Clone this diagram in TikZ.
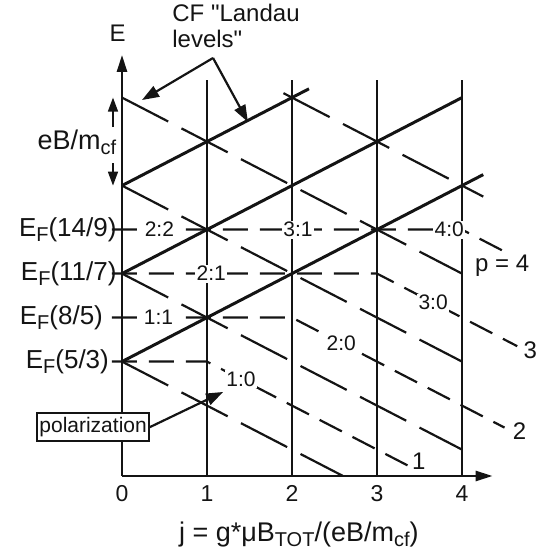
\documentclass[tikz,border=0pt]{standalone}
\usepackage{fontspec}
\setmainfont{Liberation Sans}
\newfontfamily\plainq{Liberation Sans}
\usetikzlibrary{arrows.meta,positioning,calc}
\definecolor{ink}{HTML}{141414}
\newcommand{\Base}{2.6}
\newcommand{\dn}[1]{\raisebox{-0.35ex}{\fontsize{10}{10}\selectfont #1}}
\newcommand{\qq}{{\plainq"}}

\begin{document}
\begin{tikzpicture}[x=42.5pt, y=22pt, ink, font=\fontsize{13}{13}\selectfont,
    axis/.style={-{Triangle[length=8.5pt,width=5pt]}, line width=1.3pt},
    jline/.style={line width=1pt},
    uplevel/.style={line width=1.5pt},
    downlevel/.style={line width=1.1pt, dash pattern=on 26pt off 7.5pt},
    fermi/.style={line width=1.1pt, dash pattern=on 12.5pt off 6pt},
    ratio/.style={fill=white, inner sep=0.8pt, font=\fontsize{10.5}{11}\selectfont},
    pointer/.style={-{Triangle[length=8.5pt,width=6pt]}, line width=1.1pt},
    gap/.style={-{Triangle[length=7pt,width=5pt]}, line width=0.8pt},
    endlabel/.style={inner sep=0pt, font=\fontsize{12}{12}\selectfont},
  ]
\useasboundingbox (-1.4353,-1.8182) rectangle (4.9647,10.8182);

% --- Integer j lines and axes --------------------------------------------------
\foreach \j in {1,...,4}
  \draw[jline] (\j,0) -- (\j,9);

% --- CF levels: down lines dashed, up lines solid ------------------------------
% level n sits at \Base+n half steps and moves half a step per unit of j
\foreach \n/\ja/\jb in {0/0/2.6, 2/0/4, 4/0/4, 6/0/4, 8/1.9/4.25}
  \draw[downlevel] (\ja,\Base+\n-\ja) -- (\jb,\Base+\n-\jb);
\foreach \n/\jb in {0/4.25, 2/4, 4/2.2}
  \draw[uplevel] (0,\Base+\n) -- (\jb,\Base+\n+\jb);

% --- Fermi levels: flat up to j = p, then down ---------------------------------
\foreach \p/\ef/\lx/\je in {1/{5/3}/-0.15/3.36, 2/{8/5}/-0.22/4.5, 3/{11/7}/-0.06/4.65, 4/{14/9}/-0.06/4.48} {
  \pgfmathsetmacro{\lev}{\Base+\p-1}
  \node[anchor=east, inner sep=0pt] (ef\p) at (\lx,\lev) {E\dn{F}(\ef)};
  \draw[fermi] (-0.12,\lev) -- (\p,\lev) -- (\je,\lev+\p-\je) coordinate (end\p);
}
\foreach \a/\b/\j in {1/0/1.40, 1/1/0.43, 2/0/2.58, 2/1/1.05, 3/0/3.66, 2/2/0.44, 3/1/2.07, 4/0/3.85} {
  \pgfmathtruncatemacro{\p}{\a+\b}
  \pgfmathsetmacro{\y}{ifthenelse(\j<\p, \Base+\p-1, \Base+2*\p-1-\j)}
  \node[ratio] (r\a\b) at (\j,\y) {\a:\b};
}
\node[endlabel, right=2pt of end1, yshift=2pt] (p1) {1};
\node[endlabel, right=4pt of end2, yshift=-2pt] (p2) {2};
\node[endlabel, right=3pt of end3, yshift=-2pt] (p3) {3};
\node[endlabel, below right=2pt and -14pt of end4] (p4) {p = 4};

\draw[axis] (0,0) -- (0,9.57);
\draw[axis] (0,0) -- (4.36,0);
\node[font=\fontsize{12}{12}\selectfont] (elab) at (-0.05,10.07) {E};
\foreach \j in {0,...,4}
  \node[font=\fontsize{11.5}{12}\selectfont] (tick\j) at (\j,-0.39) {\j};
\node[font=\fontsize{13.5}{14}\selectfont] (jlab) at (2.08,-1.34) {j = g*μB\dn{TOT}/(eB/m\dn{cf})};

% --- Level spacing -------------------------------------------------------------
\node[font=\fontsize{13.5}{14}\selectfont] (ebm) at (-0.53,7.59) {eB/m\dn{cf}};
\coordinate (gaptop) at (-0.106,8.6);
\coordinate (gapbot) at (-0.106,6.6);
\draw[gap] (-0.106,7.93) -- (gaptop);
\draw[gap] (-0.106,7.11) -- (gapbot);

% --- Callouts ------------------------------------------------------------------
\node[anchor=north west, align=left, inner sep=0pt, font=\fontsize{12}{13}\selectfont] (cf) at (0.588,10.727) {CF \qq Landau\\levels\qq};
\coordinate (cfroot) at (1.071,9.5);
\coordinate (cfdown) at (0.235,8.545);
\coordinate (cfup) at (1.482,8.045);
\draw[pointer] (cfroot) -- (cfdown);
\draw[pointer] (cfroot) -- (cfup);

\node[draw, line width=1pt, fill=white, inner xsep=1pt, inner ysep=2pt, font=\fontsize{10.5}{12}\selectfont] (pol) at (-0.34,1.11) {polarization};
\coordinate (polhead) at (1.19,1.91);
\draw[pointer] (pol.east) -- (polhead);
\end{tikzpicture}
\end{document}
